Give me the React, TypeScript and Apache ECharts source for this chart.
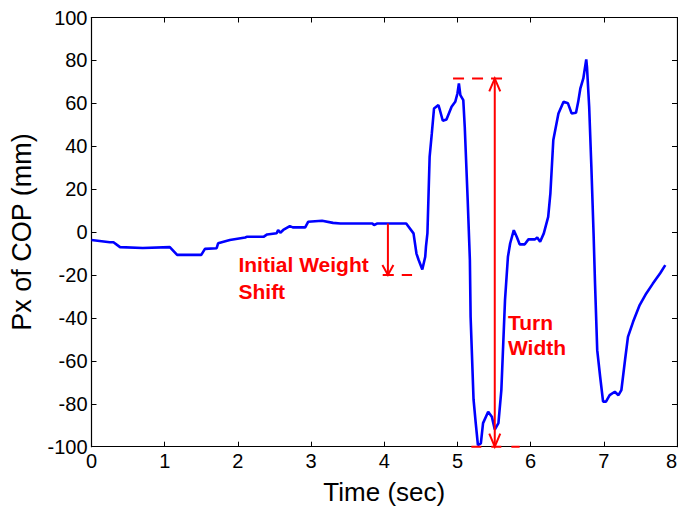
import React, { useEffect, useRef } from "react";
import * as echarts from "echarts";

// Blue trace: time (s) and Px of COP (mm)
const timeSec = [
  0, 0.25, 0.3, 0.39, 0.7, 1.07, 1.17, 1.5, 1.55, 1.71, 1.73, 1.89, 2.1, 2.12, 2.35, 2.4, 2.53, 2.55,
  2.58, 2.62, 2.71, 2.75, 2.92, 2.96, 3.15, 3.3, 3.4, 3.84, 3.86, 3.9, 4.3, 4.4, 4.44, 4.47, 4.52,
  4.56, 4.57, 4.59, 4.62, 4.65, 4.68, 4.74, 4.76, 4.8, 4.85, 4.92, 4.97, 5.0, 5.02, 5.04, 5.08,
  5.1, 5.14, 5.17, 5.18, 5.22, 5.25, 5.28, 5.32, 5.35, 5.42, 5.47, 5.51, 5.56, 5.6, 5.65, 5.69,
  5.72, 5.77, 5.81, 5.85, 5.92, 5.97, 6.06, 6.09, 6.13, 6.18, 6.24, 6.27, 6.31, 6.38, 6.45, 6.51,
  6.56, 6.62, 6.65, 6.68, 6.72, 6.76, 6.77, 6.8, 6.83, 6.86, 6.88, 6.91, 6.95, 6.99, 7.03, 7.08,
  7.15, 7.2, 7.24, 7.29, 7.33, 7.4, 7.49, 7.58, 7.67, 7.77, 7.84,
];
const copPx = [
  -3.7, -4.7, -4.7, -7, -7.4, -7, -10.6, -10.6, -7.8, -7.5, -5.2, -3.7, -2.5, -2.2, -2.2, -1.1, -0.5, 1,
  -0.3, 1, 2.8, 2.2, 2.2, 4.8, 5.3, 4.3, 4, 4, 3.2, 4, 4, -0.6, -10, -13, -17.4,
  -11.5, -6.8, -0.5, 35, 46, 57.6, 59.2, 56.9, 51.9, 52.5, 58.4, 60.7, 64.6, 69.3, 63.8, 61.5,
  49, 15, -13, -39.5, -78, -89, -99.3, -98.5, -89, -83.7, -86, -92, -89, -73.6, -31.7, -11.5,
  -5.3, 0.9, -2.2, -5.7, -5.7, -3.4, -3.4, -2.5, -4.5, -0.6, 7.1, 18, 42.9, 55.3, 60.7, 60,
  55.3, 55.6, 60.7, 67, 71.6, 80.5, 77, 58.4, 30.4, -0.6, -24, -55, -67.4, -79, -79, -76,
  -74.4, -76, -73.6, -59.6, -48.8, -41.8, -34, -28.6, -24, -19.2, -15.4,
];

// Tick values
const xTicks = { min: 0, max: 8, interval: 1 };
const yTicks = { min: -100, max: 100, interval: 20 };

// Red annotations (data coordinates)
const arrowX = [4.05, 5.51];
const arrowFrom = [4, 71.6];
const arrowTo = [-20, -100];
const arrowBothEnds = [false, true];

const dashX1 = [3.98, 4.94, 5.19];
const dashX2 = [4.38, 5.61, 5.85];
const dashY = [-20, 71.6, -100];

const labelText = ["Initial Weight", "Shift", "Turn", "Width"];
const labelX = [2.008, 2.008, 5.69, 5.69];
const labelY = [-15.1, -27.6, -41.9, -53.6];

const FONT = "'Liberation Sans', Arial, Helvetica, sans-serif";
const RED = "#ff0000";

export default function App() {
  const ref = useRef<HTMLDivElement>(null);

  useEffect(() => {
    if (!ref.current) return;
    const chart = echarts.init(ref.current, null, { renderer: "svg" });

    const lineData = timeSec.map((t, i) => [t, copPx[i]]);

    const axisCommon = {
      type: "value" as const,
      axisLine: { show: true, onZero: false, lineStyle: { color: "#000", width: 1.2 } },
      axisTick: { show: true, inside: true, length: 5, lineStyle: { color: "#000", width: 1 } },
      splitLine: { show: false },
    };

    const renderItem = (_params: any, api: any) => {
      const children: any[] = [];
      // dashed horizontals
      for (let i = 0; i < dashY.length; i++) {
        const p1 = api.coord([dashX1[i], dashY[i]]);
        const p2 = api.coord([dashX2[i], dashY[i]]);
        children.push({
          type: "line",
          shape: { x1: p1[0], y1: p1[1], x2: p2[0], y2: p2[1] },
          style: { stroke: RED, lineWidth: 2, lineDash: i === 2 ? [10, 10] : [11, 8] },
        });
      }
      // arrows
      for (let i = 0; i < arrowX.length; i++) {
        const a = api.coord([arrowX[i], arrowFrom[i]]);
        const b = api.coord([arrowX[i], arrowTo[i]]);
        children.push({
          type: "line",
          shape: { x1: a[0], y1: a[1], x2: b[0], y2: b[1] },
          style: { stroke: RED, lineWidth: 2 },
        });
        const hw = 5.5;
        const hh = arrowBothEnds[i] ? 13 : 10;
        children.push({
          type: "polyline",
          shape: { points: [[b[0] - hw, b[1] - hh], [b[0], b[1]], [b[0] + hw, b[1] - hh]] },
          style: { stroke: RED, lineWidth: 2, fill: null },
        });
        if (arrowBothEnds[i]) {
          children.push({
            type: "polyline",
            shape: { points: [[a[0] - hw, a[1] + hh], [a[0], a[1]], [a[0] + hw, a[1] + hh]] },
            style: { stroke: RED, lineWidth: 2, fill: null },
          });
        } else {
          children.push({
            type: "line",
            shape: { x1: b[0] - 5, y1: b[1], x2: b[0] + 5, y2: b[1] },
            style: { stroke: RED, lineWidth: 2 },
          });
        }
      }
      // labels
      for (let i = 0; i < labelText.length; i++) {
        const p = api.coord([labelX[i], labelY[i]]);
        children.push({
          type: "text",
          x: p[0],
          y: p[1],
          style: {
            text: labelText[i],
            fill: RED,
            fontSize: 21,
            fontWeight: "bold",
            fontFamily: FONT,
            textAlign: "left",
            textVerticalAlign: "middle",
          },
        });
      }
      return { type: "group", children };
    };

    chart.setOption({
      animation: false,
      backgroundColor: "#fff",
      textStyle: { fontFamily: FONT },
      grid: {
        left: 91.5,
        right: 1,
        top: 17.5,
        bottom: 71.3,
        containLabel: false,
        outerBoundsMode: "none",
      },
      xAxis: [
        {
          ...axisCommon,
          ...xTicks,
          position: "bottom",
          axisLabel: {
            show: true,
            fontSize: 20,
            color: "#000",
            margin: 4,
            fontFamily: FONT,
            alignMaxLabel: "right",
          },
          name: "Time (sec)",
          nameLocation: "middle",
          nameGap: 32,
          nameTextStyle: { fontSize: 26, color: "#000", fontFamily: FONT },
        },
        {
          ...axisCommon,
          ...xTicks,
          position: "top",
          axisLabel: { show: false },
        },
      ],
      yAxis: [
        {
          ...axisCommon,
          ...yTicks,
          position: "left",
          axisLabel: { show: true, fontSize: 20, color: "#000", margin: 4, fontFamily: FONT },
          name: "Px of COP (mm)",
          nameLocation: "middle",
          nameGap: 56,
          nameTextStyle: { fontSize: 27, color: "#000", fontFamily: FONT },
        },
        {
          ...axisCommon,
          ...yTicks,
          position: "right",
          axisLabel: { show: false },
        },
      ],
      series: [
        {
          type: "line",
          xAxisIndex: 0,
          yAxisIndex: 0,
          data: lineData,
          showSymbol: false,
          symbol: "none",
          lineStyle: { color: "#0000ff", width: 2.6 },
          z: 2,
        },
        {
          type: "custom",
          xAxisIndex: 0,
          yAxisIndex: 0,
          data: [0],
          renderItem,
          clip: false,
          silent: true,
          z: 3,
        },
      ],
    });

    return () => chart.dispose();
  }, []);

  return (
    <div
      ref={ref}
      style={{ position: "absolute", left: 0, top: 0, width: 678, height: 518, background: "#fff" }}
    />
  );
}
